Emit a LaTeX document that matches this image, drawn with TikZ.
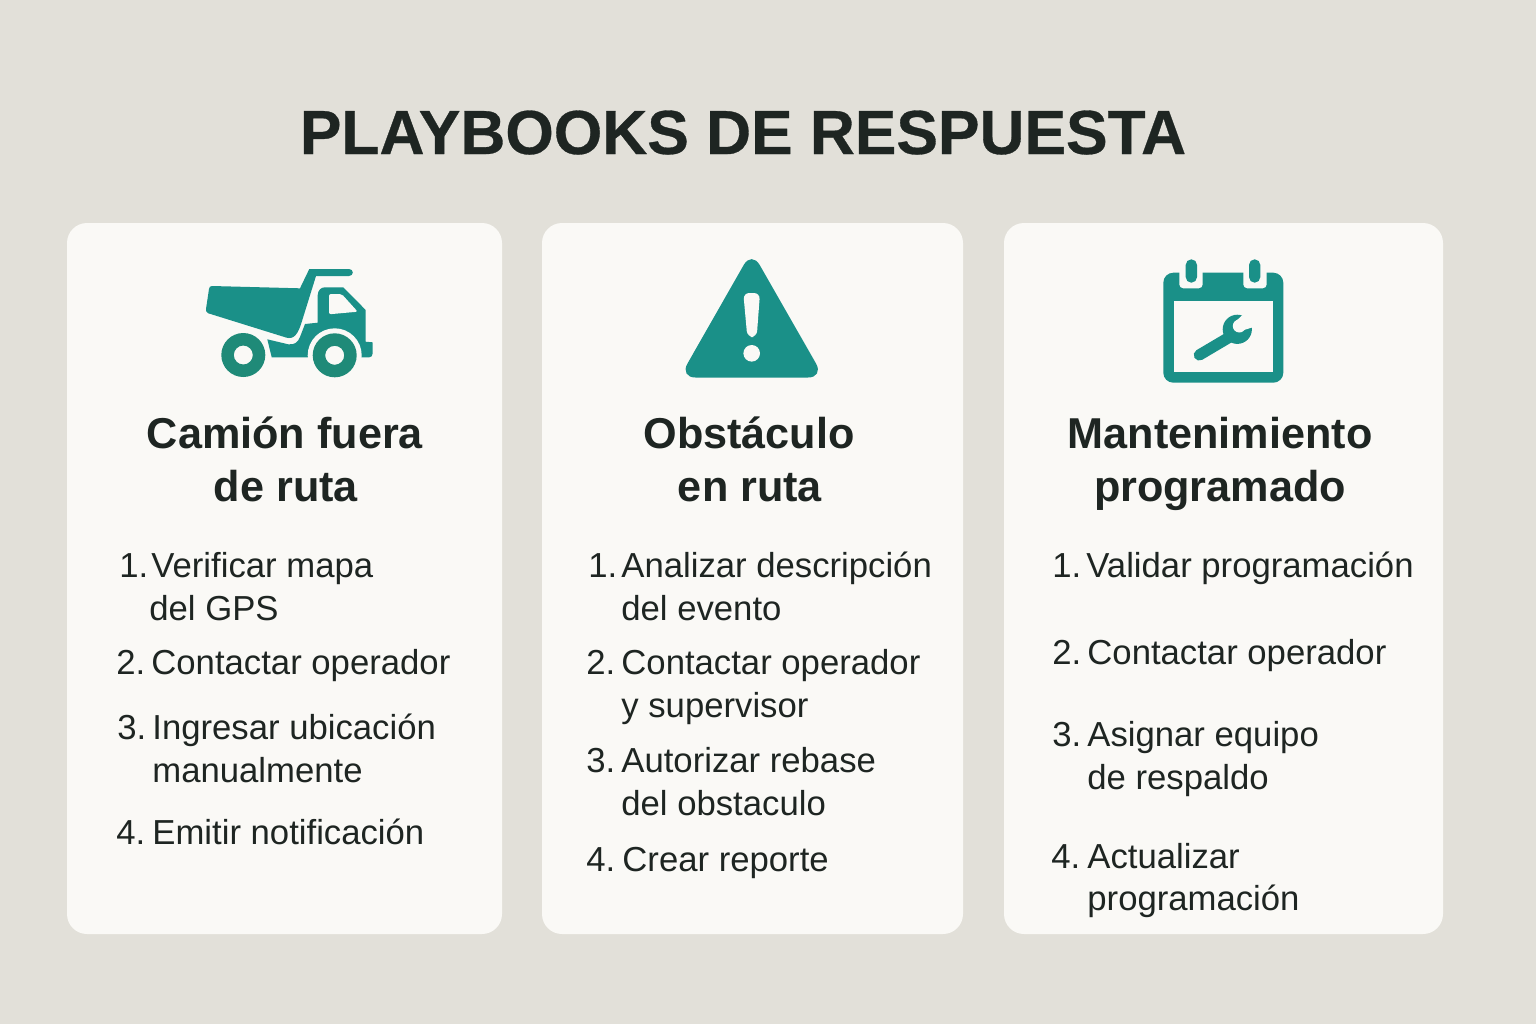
\documentclass[tikz,border=0pt]{standalone}
\usepackage{fontspec}
\setmainfont{Liberation Sans}
\newfontfamily\titlefont[FakeBold=0.5]{Liberation Sans Bold}
\definecolor{pagegrey}{HTML}{E2E0D9}
\definecolor{cardwhite}{HTML}{FAF9F6}
\definecolor{tealicon}{HTML}{1A9088}
\definecolor{tealwheel}{HTML}{1F8A78}
\definecolor{inkdark}{HTML}{1E2522}
\tikzset{
	card/.style={fill=cardwhite, rounded corners=10},
	headline/.style={anchor=base, font=\fontsize{21.6}{26}\selectfont\bfseries, text=inkdark, inner sep=0pt},
	itemline/.style={anchor=base west, font=\fontsize{17.35}{22}\selectfont, text=inkdark, inner sep=0pt},
}
\begin{document}
\begin{tikzpicture}[x=0.5pt, y=-0.5pt]
	%%%%% START %%%%%

	\fill[pagegrey] (0, 0) rectangle (1536, 1024);
	\useasboundingbox (0, 0) rectangle (1536, 1024);

	\node[anchor=base, inner sep=0pt, text=inkdark, font=\fontsize{31.15}{38}\selectfont\titlefont] (title) at (743, 154) {PLAYBOOKS DE RESPUESTA};

	\fill[card] (67, 223) rectangle (502, 934);
	\fill[card] (542, 223) rectangle (963, 934);
	\fill[card] (1004, 223) rectangle (1443, 934);

	% truck
	\fill[tealicon] (267.3, 339.3) -- (288.3, 344.3) .. controls (295, 345) and (298, 342) .. (300, 337) -- (305, 324) -- (317.7, 322.7) -- (317.7, 295) .. controls (318, 290) and (321, 287.3) .. (325, 287.3) -- (343.3, 287.3) -- (365.7, 310) -- (365.7, 341.7) -- (372.7, 342.3) -- (372.7, 353.3) .. controls (372.7, 356) and (371, 357.3) .. (369.3, 357.3) -- (271.7, 357.3) -- cycle;
	\fill[cardwhite] (334.7, 355.3) circle (27);
	\fill[tealwheel, even odd rule] (334.7, 355.3) circle (22) (334.7, 355.3) circle (9.5);
	\fill[tealwheel, even odd rule] (243.3, 355) circle (22) (243.3, 355) circle (9.5);
	\fill[cardwhite, rounded corners=1] (329, 294) -- (341.7, 294) -- (357.7, 311.7) -- (329, 314.3) -- cycle;
	\fill[tealicon] (212, 286) -- (300, 288.3) -- (309.3, 269) -- (349, 269) .. controls (354, 269) and (354, 276) .. (349, 276) -- (316, 276) -- (301.7, 322) .. controls (298, 334) and (294, 340) .. (286, 337.5) -- (208.3, 313.3) .. controls (206, 312) and (206, 311) .. (206, 309) -- (209, 289) .. controls (209.5, 287) and (210, 286) .. (212, 286) -- cycle;

	% warning sign
	\fill[tealicon, rounded corners=8] (751.7, 251) -- (824, 377.5) -- (679.5, 377.5) -- cycle;
	\fill[cardwhite, rounded corners=3] (743.3, 293) -- (760, 293) -- (756.7, 337) -- (747.3, 337) -- cycle;
	\fill[cardwhite] (751.7, 353.3) circle (8.3);

	% calendar with wrench
	\fill[tealicon, rounded corners=5] (1163.3, 272.7) rectangle (1283.3, 382.7);
	\fill[cardwhite] (1174, 301) rectangle (1272.7, 372.3);
	\fill[cardwhite, rounded corners=2] (1179.3, 265) rectangle (1202.7, 288.3);
	\fill[cardwhite, rounded corners=2] (1243.3, 265) rectangle (1266.7, 288.3);
	\fill[tealicon, rounded corners=2.8] (1185.7, 259.3) rectangle (1197, 282.7);
	\fill[tealicon, rounded corners=2.8] (1249, 259.3) rectangle (1260.3, 282.7);
	\draw[tealicon, line width=5.6pt, line cap=round] (1199.3, 355) -- (1228, 338);
	\fill[tealicon] (1237.3, 329.3) circle (14.6);
	\fill[cardwhite] (1239.3, 326) circle (6.5);
	\fill[cardwhite] (1235, 322) -- (1250, 308) -- (1260, 325) -- (1244, 330) -- cycle;

	% headings
	\node[headline] (headA) at (285, 448) {Camión fuera};
	\node[headline] (headAb) at (286, 501) {de ruta};
	\node[headline] (headB) at (749, 448) {Obstáculo};
	\node[headline] (headBb) at (750, 501) {en ruta};
	\node[headline] (headC) at (1220, 448) {Mantenimiento};
	\node[headline] (headCb) at (1220, 501) {programado};

	% left card
	\node[itemline] (numA1) at (119, 577) {1.};
	\node[itemline] (itemA1) at (151, 577) {Verificar mapa};
	\node[itemline] (itemA1b) at (149, 620) {del GPS};
	\node[itemline] (numA2) at (116, 674) {2.};
	\node[itemline] (itemA2) at (151, 674) {Contactar operador};
	\node[itemline] (numA3) at (117, 739) {3.};
	\node[itemline] (itemA3) at (152, 739) {Ingresar ubicación};
	\node[itemline] (itemA3b) at (152, 782) {manualmente};
	\node[itemline] (numA4) at (116, 844) {4.};
	\node[itemline] (itemA4) at (152, 844) {Emitir notificación};

	% middle card
	\node[itemline] (numB1) at (588, 577) {1.};
	\node[itemline] (itemB1) at (621, 577) {Analizar descripción};
	\node[itemline] (itemB1b) at (621, 620) {del evento};
	\node[itemline] (numB2) at (586, 674) {2.};
	\node[itemline] (itemB2) at (621, 674) {Contactar operador};
	\node[itemline] (itemB2b) at (621, 717) {y supervisor};
	\node[itemline] (numB3) at (586, 772) {3.};
	\node[itemline] (itemB3) at (621, 772) {Autorizar rebase};
	\node[itemline] (itemB3b) at (621, 815) {del obstaculo};
	\node[itemline] (numB4) at (586, 871) {4.};
	\node[itemline] (itemB4) at (622, 871) {Crear reporte};

	% right card
	\node[itemline] (numC1) at (1052, 577) {1.};
	\node[itemline] (itemC1) at (1086, 577) {Validar programación};
	\node[itemline] (numC2) at (1052, 664) {2.};
	\node[itemline] (itemC2) at (1087, 664) {Contactar operador};
	\node[itemline] (numC3) at (1052, 746) {3.};
	\node[itemline] (itemC3) at (1087, 746) {Asignar equipo};
	\node[itemline] (itemC3b) at (1087, 789) {de respaldo};
	\node[itemline] (numC4) at (1051, 868) {4.};
	\node[itemline] (itemC4) at (1087, 868) {Actualizar};
	\node[itemline] (itemC4b) at (1087, 910) {programación};

	%%%%% END %%%%%
\end{tikzpicture}
\end{document}
